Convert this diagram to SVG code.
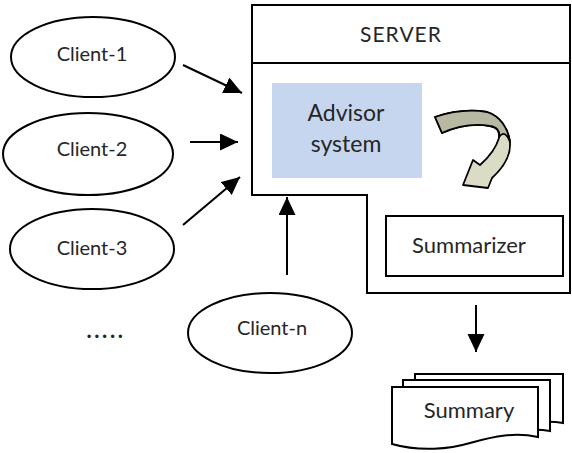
<svg xmlns="http://www.w3.org/2000/svg" width="572" height="453" viewBox="0 0 572 453">
  <style>
    .lbl { font-family: Lato, "Liberation Sans", sans-serif; fill: #262626; text-anchor: middle; }
    .ell { fill: #ffffff; stroke: #000000; stroke-width: 2; }
    .box { fill: #ffffff; stroke: #000000; stroke-width: 2; }
    .doc { fill: #ffffff; stroke: #000000; stroke-width: 2; stroke-linejoin: miter; }
    .conn { stroke: #000000; stroke-width: 2; fill: none; marker-end: url(#head); }
  </style>
  <defs>
    <marker id="head" markerUnits="userSpaceOnUse" markerWidth="20" markerHeight="18" refX="18" refY="8.5" orient="auto">
      <path d="M0,0 L18,8.5 L0,17 Z" fill="#000000"/>
    </marker>
  </defs>
  <rect width="572" height="453" fill="#ffffff"/>

  <!-- server container with stepped outline -->
  <g id="server">
    <path class="box" d="M252,5 H570 V293 H367 V195 H252 Z"/>
    <line x1="252" y1="63" x2="570" y2="63" stroke="#000000" stroke-width="2"/>
    <text class="lbl" x="401" y="42" font-size="21" letter-spacing="1">SERVER</text>
  </g>

  <g id="advisor">
    <rect x="272" y="83" width="150" height="95" fill="#c6d6ee"/>
    <text class="lbl" x="346" y="121" font-size="23">Advisor</text>
    <text class="lbl" x="346" y="152" font-size="23">system</text>
  </g>

  <!-- curved flow arrow from advisor to summarizer -->
  <g id="flow-arrow" stroke="#000000" stroke-width="1.8" stroke-linejoin="round">
    <path fill="#dcdbc6" d="M435,117 C450,112 470,109 487,112 C500,116 508,128 510,142 C511,155 503,168 492,178 L488,188 L463,185 L473,160 L480,165 C488,158 496,148 499,138 C500,131 497,127 490,126 C478,124 460,125 442,133 Z"/>
    <path fill="#b9b8a3" d="M435,117 C450,112 470,109 487,112 C500,116 508,128 510,142 C507,134 503,131 499,137 C500,131 497,127 490,126 C478,124 460,125 442,133 Z"/>
  </g>

  <g id="summarizer">
    <rect class="box" x="386" y="216" width="177" height="60"/>
    <text class="lbl" x="469" y="253" font-size="22">Summarizer</text>
  </g>

  <g id="client-1">
    <ellipse class="ell" cx="93" cy="57" rx="82" ry="40"/>
    <text class="lbl" x="92" y="61" font-size="20">Client-1</text>
  </g>
  <g id="client-2">
    <ellipse class="ell" cx="88" cy="154" rx="85" ry="41"/>
    <text class="lbl" x="92" y="156" font-size="20">Client-2</text>
  </g>
  <g id="client-3">
    <ellipse class="ell" cx="92" cy="249" rx="82" ry="40"/>
    <text class="lbl" x="92" y="255" font-size="20">Client-3</text>
  </g>
  <g id="client-n">
    <ellipse class="ell" cx="270" cy="333" rx="82" ry="40"/>
    <text class="lbl" x="272" y="335" font-size="20">Client-n</text>
  </g>
  <g id="more-clients">
    <text class="lbl" x="106" y="338" font-size="22" font-weight="bold" letter-spacing="2.6">.....</text>
  </g>

  <!-- stacked output documents -->
  <g id="summary">
    <path class="doc" d="M415,374 H563 V423 C545,420 530,423 510,428 L415,428 Z"/>
    <path class="doc" d="M403,380 H550 V431 C532,428 515,431 495,436 L403,436 Z"/>
    <path class="doc" d="M392,387 H538 V437 C515,432 495,436 470,443 C450,449 420,452 392,444 Z"/>
    <text class="lbl" x="469" y="418" font-size="22">Summary</text>
  </g>

  <g id="connectors">
    <line class="conn" x1="183" y1="65" x2="242" y2="93"/>
    <line class="conn" x1="190" y1="142" x2="238" y2="142"/>
    <line class="conn" x1="183" y1="225" x2="240" y2="177"/>
    <line class="conn" x1="287" y1="275" x2="287" y2="197"/>
    <line class="conn" x1="476" y1="305" x2="476" y2="352"/>
  </g>
</svg>
